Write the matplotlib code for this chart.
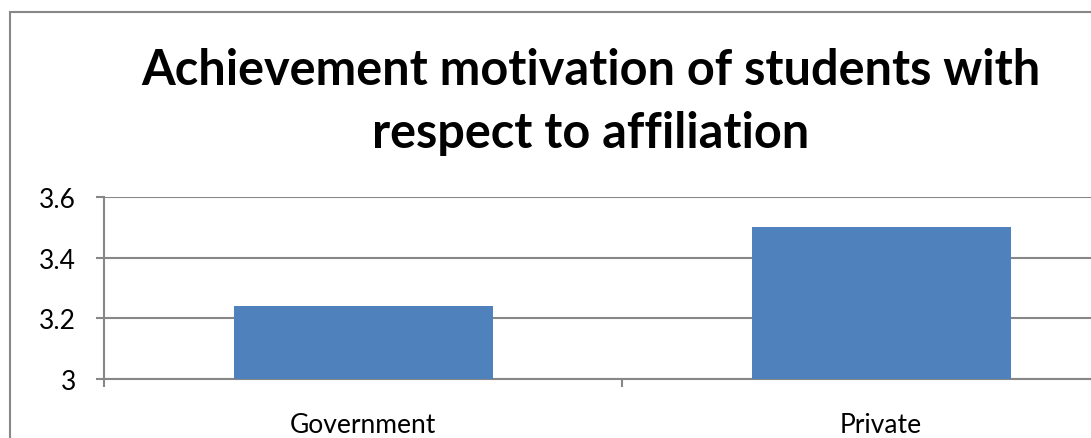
import matplotlib
matplotlib.use("Agg")
import matplotlib.pyplot as plt
from matplotlib.patches import Rectangle

categories = ["Government", "Private"]
values = [3.24, 3.5]
yticks = [3.0, 3.2, 3.4, 3.6]
ytick_labels = ["3", "3.2", "3.4", "3.6"]
title_lines = ["Achievement motivation of students with", "respect to affiliation"]

W, H = 1091, 439
fig = plt.figure(figsize=(W / 100, H / 100), dpi=100)
fig.patch.set_facecolor("white")

grid_col = "#878787"
bar_col = "#4F81BD"
font = "Lato"
px = 72 / 100  # points per pixel at this dpi

# chart frame (runs past the right and bottom edges)
fig.patches.append(Rectangle((10 / W, -0.1), 1.2, (H - 13) / H + 0.1,
                             transform=fig.transFigure, fill=False,
                             edgecolor="#888888", linewidth=1.5, clip_on=False))

left, right = 104 / W, 1140 / W
top, bottom = 1 - 198 / H, 1 - 380 / H
ax = fig.add_axes([left, bottom, right - left, top - bottom])

x = list(range(len(categories)))
ax.bar(x, [v - 3.0 for v in values], bottom=3.0, width=0.5, color=bar_col, zorder=3)
ax.set_xlim(-0.5, len(categories) - 0.5)
ax.set_ylim(3.0, 3.6)

ax.set_yticks(yticks)
ax.set_yticklabels(ytick_labels, fontsize=19, family=font)
ax.yaxis.grid(True, color=grid_col, linewidth=1.5, zorder=0)

# category boundaries carry the x tick marks; labels sit at the centres
ax.set_xticks([i - 0.5 for i in range(len(categories) + 1)])
ax.set_xticklabels([])
ax.set_xticks(x, minor=True)
ax.set_xticklabels(categories, minor=True, fontsize=19, family=font)
ax.tick_params(axis="x", which="major", length=8 * px, width=1.5, color=grid_col, direction="out")
ax.tick_params(axis="x", which="minor", length=0, pad=24)
ax.tick_params(axis="y", length=8 * px, width=1.5, color=grid_col, pad=20 * px)

for s in ["top", "right"]:
    ax.spines[s].set_visible(False)
for s in ["left", "bottom"]:
    ax.spines[s].set_color(grid_col)
    ax.spines[s].set_linewidth(1.5)

for line, base in zip(title_lines, [85, 148]):
    fig.text(591 / W, 1 - base / H, line, ha="center", va="baseline", fontsize=35,
             fontweight="bold", family=font)

fig.savefig("out.png", dpi=100, facecolor="white")
